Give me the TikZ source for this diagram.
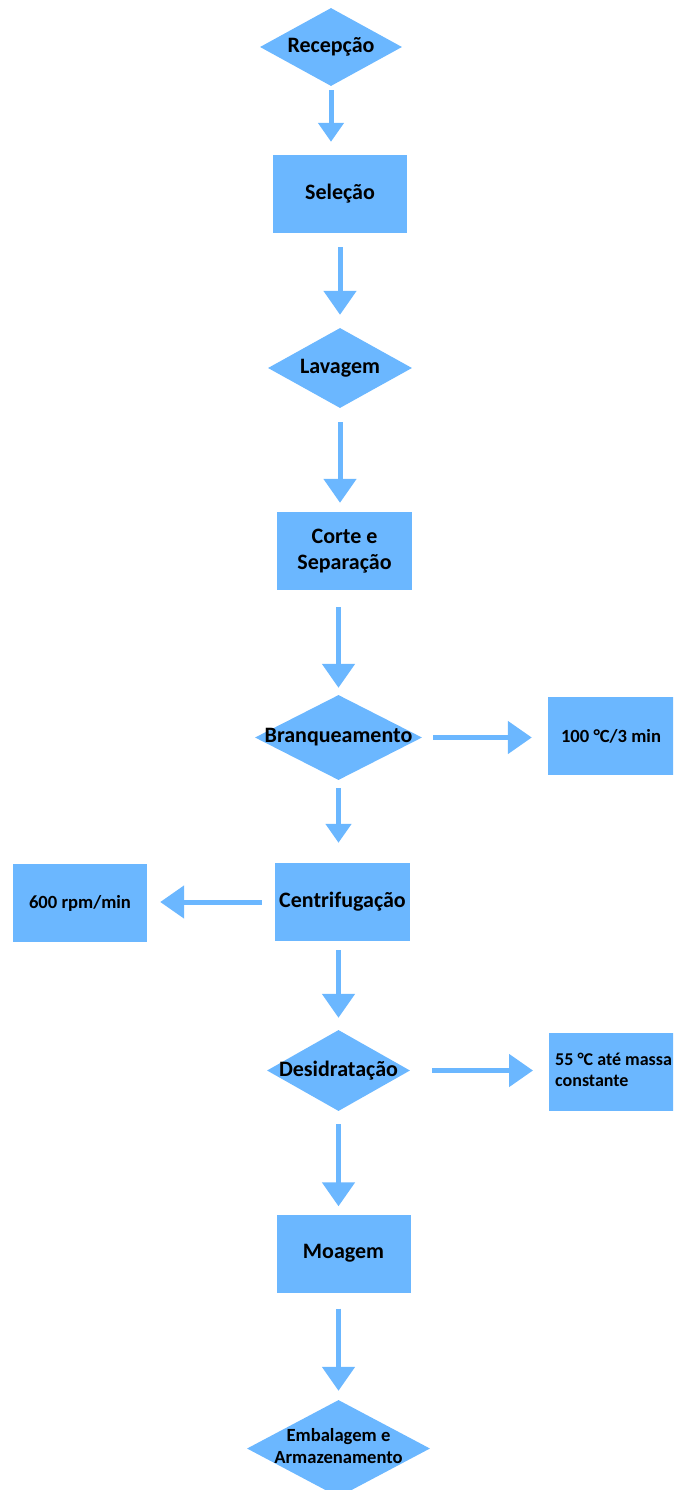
\documentclass[tikz,border=0pt]{standalone}
\usepackage{fontspec}
\setmainfont{Carlito}
\usetikzlibrary{shapes.geometric,arrows.meta}
\definecolor{fc}{RGB}{107,183,255}
\begin{document}
\begin{tikzpicture}[x=1pt,y=-1pt,
  proc/.style={rectangle, fill=fc, inner sep=0pt, align=center,
    font=\fontsize{22}{26}\selectfont\bfseries, minimum height=78pt},
  dec/.style={diamond, fill=fc, inner sep=0pt,
    font=\fontsize{22}{26}\selectfont\bfseries},
  side/.style={rectangle, fill=fc, inner sep=0pt, minimum height=78pt,
    font=\fontsize{18.6}{21}\selectfont\bfseries},
  arr/.style={draw=fc, line width=5pt, -{Triangle[width=32pt,length=24pt]}},
  arrs/.style={draw=fc, line width=5pt, -{Triangle[width=25pt,length=19pt]}}]
\useasboundingbox (0,0) rectangle (673,1490);
\clip (0,0) rectangle (673,1490);

\node[dec, minimum width=142pt, minimum height=78pt] (rec) at (331,47) {\makebox[0pt]{Recepção}};
\node[proc, minimum width=134pt] (sel) at (340,194) {Seleção};
\node[dec, minimum width=144pt, minimum height=80pt] (lav) at (340,368) {\makebox[0pt]{Lavagem}};
\node[proc, minimum width=135pt] (cor) at (344.5,551) {Corte e\\Separação};
\node[dec, minimum width=167pt, minimum height=85pt] (bra) at (338.5,737.5) {\makebox[0pt]{Branqueamento}};
\node[side, minimum width=126pt] (t100) at (611,736) {100 °C/3 min};
\node[proc, minimum width=135pt] (cen) at (342.5,902) {Centrifugação};
\node[side, minimum width=134pt] (rpm) at (80,903) {600 rpm/min};
\node[dec, minimum width=143pt, minimum height=81pt] (des) at (338.5,1070.5) {\makebox[0pt]{Desidratação}};
\node[side, anchor=west, minimum width=150pt] (t55) at (549,1072) {};
\node[anchor=west, inner sep=0pt, align=left,
  font=\fontsize{18}{21}\selectfont\bfseries] (t55t) at (555,1070) {55 °C até massa\\constante};
\node[proc, minimum width=134pt] (moa) at (343.5,1253.5) {Moagem};
\node[dec, minimum width=183pt, minimum height=97pt,
  font=\fontsize{18.6}{22}\selectfont\bfseries] (emb) at (338.5,1448.5)
  {\makebox[0pt]{\begin{tabular}{@{}c@{}}Embalagem e\\Armazenamento\end{tabular}}};

\draw[arrs, shorten <=4pt, shorten >=13pt] (rec.south) -- (rec.south |- sel.north);
\draw[arr, shorten <=14pt, shorten >=13pt] (sel.south) -- (sel.south |- lav.north);
\draw[arr, shorten <=14pt, shorten >=9pt] (lav.south) -- (lav.south |- cor.north);
\draw[arr, shorten <=17pt, shorten >=7pt] (bra.north |- cor.south) -- (bra.north);
\draw[arrs, shorten <=8pt, shorten >=20pt] (bra.south) -- (bra.south |- cen.north);
\draw[arr, shorten <=9pt, shorten >=12pt] (des.north |- cen.south) -- (des.north);
\draw[arr, shorten <=13pt, shorten >=8pt] (des.south) -- (des.south |- moa.north);
\draw[arr, shorten <=16pt, shorten >=9pt] (emb.north |- moa.south) -- (emb.north);

\draw[arr, shorten <=11pt, shorten >=16pt] (bra.east) -- (bra.east -| t100.west);
\draw[arr, shorten <=13pt, shorten >=13pt] (cen.west) -- (cen.west -| rpm.east);
\draw[arr, shorten <=22pt, shorten >=16pt] (des.east) -- (des.east -| t55.west);
\end{tikzpicture}
\end{document}
